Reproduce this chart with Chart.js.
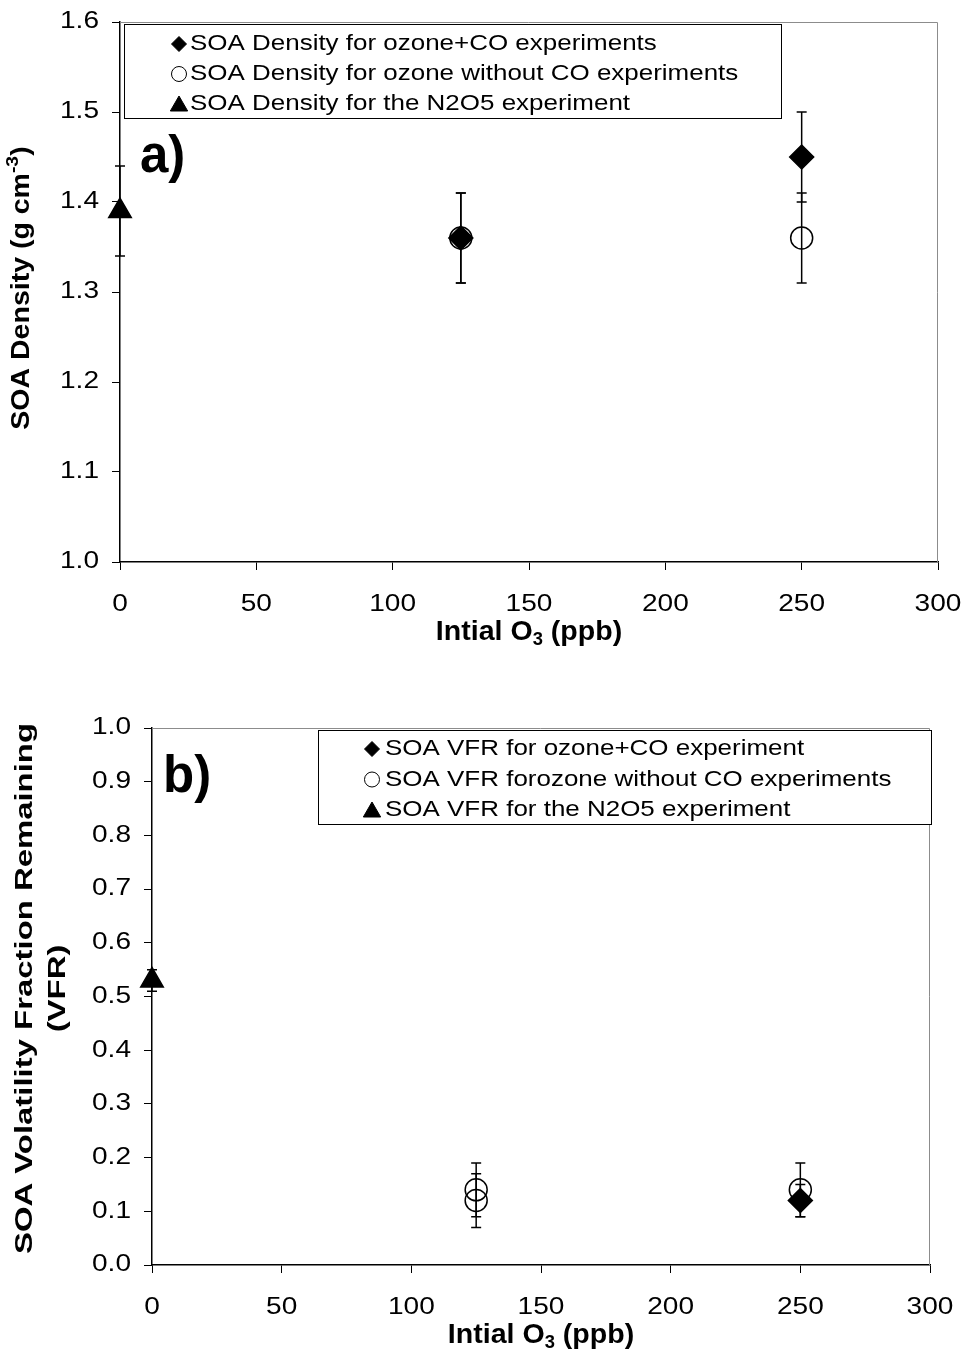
<!DOCTYPE html>
<html>
<head>
<meta charset="utf-8">
<script src="https://cdn.jsdelivr.net/npm/chart.js@4/dist/chart.umd.min.js"></script>
<style>
  body { margin: 0; background: #fff; }
  canvas { display: block; }
</style>
</head>
<body>
<canvas id="densityChart" width="968" height="680"></canvas>
<canvas id="vfrChart" width="968" height="677"></canvas>
<script>
// ---- data ----
const xTicks = [0, 50, 100, 150, 200, 250, 300];

// a) SOA density
const densityCOX = [125, 250];
const densityCO = [1.36, 1.45];
const densityCOErr = [0.05, 0.05];
const densityNoCOX = [125, 250];
const densityNoCO = [1.36, 1.36];
const densityNoCOErr = [0.05, 0.05];
const densityN2O5X = [0];
const densityN2O5 = [1.39];
const densityN2O5Err = [0.05];

// b) SOA volatility fraction remaining
const vfrCOX = [250];
const vfrCO = [0.12];
const vfrCOErr = [0.03];
const vfrNoCOX = [125, 125, 250];
const vfrNoCO = [0.14, 0.12, 0.14];
const vfrNoCOErr = [0.05, 0.05, 0.05];
const vfrN2O5X = [0];
const vfrN2O5 = [0.53];
const vfrN2O5Err = [0.02];

const FONT = '"Liberation Sans", Arial, sans-serif';

function points(xs, ys) {
    return xs.map((x, i) => ({ x: x, y: ys[i] }));
}

// plain text, optionally stretched along its reading direction
function drawText(ctx, text, x, y, o) {
    ctx.save();
    ctx.font = `${o.bold ? 'bold ' : ''}${o.size}px ${FONT}`;
    ctx.textAlign = o.align || 'left';
    ctx.textBaseline = o.baseline || 'middle';
    ctx.translate(x, y);
    ctx.scale(o.stretch || 1, 1);
    ctx.fillText(text, 0, 0);
    ctx.restore();
}

// bold text with sub/superscript parts, centred on (x, y)
function drawRich(ctx, parts, x, y, size, stretch) {
    const fontFor = p => `bold ${p.sub || p.sup ? Math.round(size * 0.66) : size}px ${FONT}`;
    let total = 0;
    parts.forEach(p => { ctx.font = fontFor(p); total += ctx.measureText(p.t).width; });
    ctx.save();
    ctx.translate(x, y);
    ctx.scale(stretch, 1);
    let cx = -total / 2;
    ctx.textBaseline = 'middle';
    ctx.textAlign = 'left';
    parts.forEach(p => {
        ctx.font = fontFor(p);
        const dy = p.sub ? size * 0.3 : p.sup ? -size * 0.35 : 0;
        ctx.fillText(p.t, cx, dy);
        cx += ctx.measureText(p.t).width;
    });
    ctx.restore();
}

const errorBars = {
    id: 'errorBars',
    afterDatasetsDraw(chart) {
        const { ctx, scales: { x, y } } = chart;
        ctx.save();
        ctx.strokeStyle = '#000';
        ctx.lineWidth = 1.5;
        chart.data.datasets.forEach(ds => {
            ds.data.forEach((p, i) => {
                const e = ds.errors[i];
                const px = x.getPixelForValue(p.x);
                const top = y.getPixelForValue(p.y + e);
                const bot = y.getPixelForValue(p.y - e);
                ctx.beginPath();
                ctx.moveTo(px, top); ctx.lineTo(px, bot);
                ctx.moveTo(px - 5, top); ctx.lineTo(px + 5, top);
                ctx.moveTo(px - 5, bot); ctx.lineTo(px + 5, bot);
                ctx.stroke();
            });
        });
        ctx.restore();
    }
};

const frame = {
    id: 'frame',
    beforeDatasetsDraw(chart) {
        const { ctx, chartArea: a } = chart;
        ctx.save();
        ctx.strokeStyle = '#8c8c8c';
        ctx.lineWidth = 1;
        ctx.beginPath();
        ctx.moveTo(a.left, a.top + 0.5);
        ctx.lineTo(a.right - 0.5, a.top + 0.5);
        ctx.lineTo(a.right - 0.5, a.bottom);
        ctx.stroke();
        ctx.restore();
    }
};

const extras = {
    id: 'extras',
    afterDraw(chart, args, opts) {
        const { ctx, chartArea: a, scales } = chart;
        ctx.save();
        ctx.fillStyle = '#000';

        // tick labels, taken from the scales
        scales.x.ticks.forEach(t => {
            drawText(ctx, String(t.value), scales.x.getPixelForValue(t.value), a.bottom + 43,
                { size: 23, stretch: 1.22, align: 'center' });
        });
        scales.y.ticks.forEach(t => {
            drawText(ctx, t.value.toFixed(1), a.left - 21, scales.y.getPixelForValue(t.value),
                { size: 23, stretch: 1.22, align: 'right' });
        });

        // legend box
        const L = opts.legend;
        ctx.fillStyle = '#fff';
        ctx.fillRect(L.left, L.top, L.width, L.height);
        ctx.strokeStyle = '#000';
        ctx.lineWidth = 1;
        ctx.strokeRect(L.left + 0.5, L.top + 0.5, L.width, L.height);
        chart.data.datasets.forEach((ds, i) => {
            const cy = L.top + L.firstRow + i * L.rowH;
            const tri = ds.pointStyle === 'triangle';
            ctx.fillStyle = ds.pointStyle === 'circle' ? '#fff' : '#000';
            ctx.strokeStyle = '#000';
            Chart.helpers.drawPoint(ctx, {
                pointStyle: ds.pointStyle,
                radius: tri ? 10 : 7.5,
                borderWidth: 1.2
            }, L.markerX, cy + (tri ? 2 : 0));
            ctx.fillStyle = '#000';
            drawText(ctx, ds.label, L.textX, cy, { size: 22, stretch: 1.18 });
        });

        // panel tag
        drawText(ctx, opts.tag.text, opts.tag.x, opts.tag.y, { size: 51, bold: true });

        // x title
        drawRich(ctx, [{ t: 'Intial O' }, { t: '3', sub: true }, { t: ' (ppb)' }],
            (a.left + a.right) / 2, a.bottom + 70, 28, 1.02);

        // y title (rotated)
        ctx.translate(opts.yTitleX, (a.top + a.bottom) / 2 + opts.yTitleShift);
        ctx.rotate(-Math.PI / 2);
        opts.yTitle.forEach((line, i) =>
            drawRich(ctx, line, 0, i * opts.yLineH, opts.yTitleSize, opts.yTitleStretch));
        ctx.restore();
    }
};

function makeChart(id, cfg) {
    const datasets = cfg.series.map(s => ({
        label: s.label,
        data: points(s.x, s.y),
        errors: s.err,
        pointStyle: s.style,
        pointRadius: s.style === 'triangle' ? 13 : s.style === 'circle' ? 11 : 12,
        pointBackgroundColor: s.style === 'circle' ? 'rgba(0,0,0,0)' : '#000',
        pointBorderColor: '#000',
        pointBorderWidth: 1.5,
        showLine: false,
        clip: false
    }));
    return new Chart(document.getElementById(id), {
        type: 'scatter',
        data: { datasets: datasets },
        plugins: [frame, errorBars, extras],
        options: {
            responsive: false,
            animation: false,
            layout: { padding: cfg.padding },
            plugins: {
                legend: { display: false },
                tooltip: { enabled: false },
                extras: cfg.extras
            },
            scales: {
                x: {
                    type: 'linear', min: 0, max: 300,
                    afterBuildTicks: s => { s.ticks = xTicks.map(v => ({ value: v })); },
                    afterFit: s => { s.height = cfg.xHeight; },
                    grid: { drawOnChartArea: false, tickLength: 8, color: '#000', lineWidth: 1 },
                    border: { color: '#000', width: 1.5 },
                    ticks: { display: false }
                },
                y: {
                    type: 'linear', min: cfg.yMin, max: cfg.yMax,
                    afterFit: s => { s.width = cfg.yWidth; },
                    grid: { drawOnChartArea: false, tickLength: 8, color: '#000', lineWidth: 1 },
                    border: { color: '#000', width: 1.5 },
                    ticks: { display: false, stepSize: 0.1 }
                }
            }
        }
    });
}

makeChart('densityChart', {
    series: [
        { label: 'SOA Density for ozone+CO experiments', x: densityCOX, y: densityCO, err: densityCOErr, style: 'rectRot' },
        { label: 'SOA Density for ozone without CO experiments', x: densityNoCOX, y: densityNoCO, err: densityNoCOErr, style: 'circle' },
        { label: 'SOA Density for the N2O5 experiment', x: densityN2O5X, y: densityN2O5, err: densityN2O5Err, style: 'triangle' }
    ],
    yMin: 1.0, yMax: 1.6,
    padding: { top: 22, right: 30, left: 0, bottom: 0 },
    yWidth: 120, xHeight: 118,
    extras: {
        legend: { left: 124, top: 24, width: 657, height: 94, firstRow: 20, rowH: 30, markerX: 179, textX: 190 },
        tag: { text: 'a)', x: 140, y: 158 },
        yTitleX: 22, yTitleShift: -4, yLineH: 30, yTitleSize: 25, yTitleStretch: 1.14,
        yTitle: [[{ t: 'SOA Density (g cm' }, { t: '-3', sup: true }, { t: ')' }]]
    }
});

makeChart('vfrChart', {
    series: [
        { label: 'SOA VFR for ozone+CO experiment', x: vfrCOX, y: vfrCO, err: vfrCOErr, style: 'rectRot' },
        { label: 'SOA VFR forozone without CO experiments', x: vfrNoCOX, y: vfrNoCO, err: vfrNoCOErr, style: 'circle' },
        { label: 'SOA VFR for the N2O5 experiment', x: vfrN2O5X, y: vfrN2O5, err: vfrN2O5Err, style: 'triangle' }
    ],
    yMin: 0, yMax: 1.0,
    padding: { top: 48, right: 38, left: 0, bottom: 0 },
    yWidth: 152, xHeight: 92,
    extras: {
        legend: { left: 318, top: 50, width: 613, height: 94, firstRow: 19, rowH: 30.5, markerX: 372, textX: 385 },
        tag: { text: 'b)', x: 163, y: 98 },
        yTitleX: 25, yTitleShift: -8, yLineH: 33, yTitleSize: 24, yTitleStretch: 1.37,
        yTitle: [[{ t: 'SOA Volatility Fraction Remaining' }], [{ t: '(VFR)' }]]
    }
});
</script>
</body>
</html>
